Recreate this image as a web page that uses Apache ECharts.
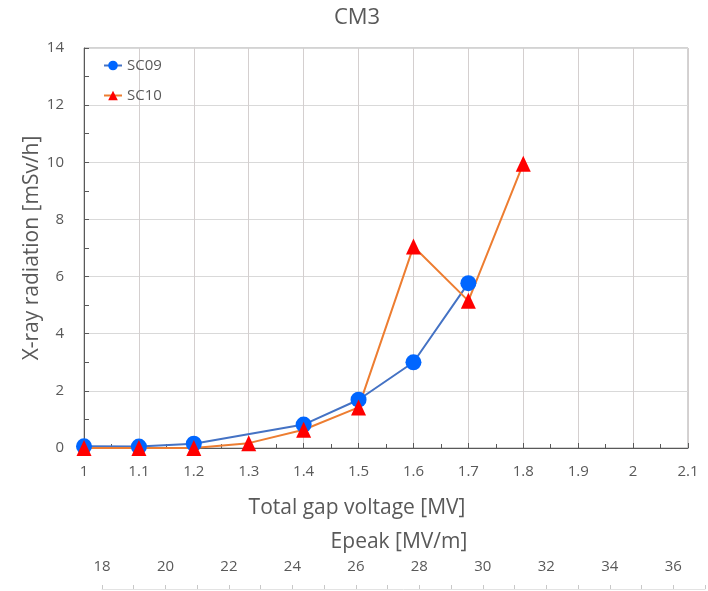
<!DOCTYPE html>
<html>
<head>
<meta charset="utf-8">
<script src="https://cdn.jsdelivr.net/npm/echarts@6/dist/echarts.min.js"></script>
<style>
  html, body { margin: 0; padding: 0; background: #fff; }
  #chart { width: 708px; height: 591px; }
</style>
</head>
<body>
<div id="chart"></div>
<script>
// data
var sc09Voltage = [1.0, 1.1, 1.2, 1.4, 1.5, 1.6, 1.7];
var sc09Dose = [0.06, 0.05, 0.15, 0.82, 1.69, 3.0, 5.77];
var sc10Voltage = [1.0, 1.1, 1.2, 1.3, 1.4, 1.5, 1.6, 1.7, 1.8];
var sc10Dose = [0, 0, 0, 0.17, 0.64, 1.42, 7.05, 5.15, 9.95];
var epeakMin = 18;
var epeakMax = 37;

var textColor = "#595959";
var font = "Open Sans";

function pairs(xs, ys) {
  return xs.map(function(x, i) {
    return [x, ys[i]];
  });
}

var myChart = echarts.init(document.getElementById("chart"));
myChart.setOption({
  animation: false,
  textStyle: { fontFamily: font },
  title: [
    {
      text: "CM3",
      left: 352,
      top: 2,
      textAlign: "center",
      textStyle: { color: textColor, fontSize: 22, fontWeight: "normal", fontFamily: font }
    },
    {
      text: "Total gap voltage [MV]",
      left: 352,
      top: 493,
      textAlign: "center",
      textStyle: { color: textColor, fontSize: 21, fontWeight: "normal", fontFamily: font }
    },
    {
      text: "Epeak [MV/m]",
      left: 394,
      top: 527,
      textAlign: "center",
      textStyle: { color: textColor, fontSize: 21, fontWeight: "normal", fontFamily: font }
    }
  ],
  legend: {
    orient: "vertical",
    left: 103,
    top: 58,
    padding: 0,
    itemGap: 15,
    itemWidth: 18,
    itemHeight: 12,
    textStyle: { color: textColor, fontSize: 15, lineHeight: 14, fontFamily: font },
    data: ["SC09", "SC10"]
  },
  grid: [
    {
      left: 84,
      top: 48,
      width: 604,
      height: 400,
      show: true,
      borderColor: "#a6a6a6",
      borderWidth: 1
    },
    {
      left: 102,
      top: 560,
      width: 606,
      height: 29
    }
  ],
  xAxis: [
    {
      type: "value",
      gridIndex: 0,
      min: 1,
      max: 2.1,
      interval: 0.1,
      axisLine: { show: true, lineStyle: { color: textColor, width: 1 } },
      axisTick: { show: true, inside: true, length: 5, lineStyle: { color: textColor } },
      minorTick: { show: true, splitNumber: 2, length: 4, lineStyle: { color: textColor } },
      splitLine: { show: true, lineStyle: { color: "#d4cfcf" } },
      axisLabel: {
        color: textColor,
        fontSize: 15,
        margin: 16,
        formatter: function(v) {
          return String(+v.toFixed(1));
        }
      }
    },
    {
      type: "value",
      gridIndex: 1,
      min: epeakMin,
      max: epeakMax,
      interval: 1,
      axisLine: { show: true, lineStyle: { color: "#e3e3e3" } },
      axisTick: { show: true, inside: true, length: 4, lineStyle: { color: "#c8c8c8" } },
      splitLine: { show: false },
      axisLabel: {
        inside: true,
        color: textColor,
        fontSize: 15,
        margin: 15,
        formatter: function(v) {
          return v % 2 === 0 && v < epeakMax ? String(v) : "";
        }
      }
    }
  ],
  yAxis: [
    {
      type: "value",
      gridIndex: 0,
      min: 0,
      max: 14,
      interval: 2,
      name: "X-ray radiation [mSv/h]",
      nameLocation: "middle",
      nameGap: 41,
      nameMoveOverlap: false,
      nameTextStyle: { color: textColor, fontSize: 21, fontFamily: font },
      axisLine: { show: true, lineStyle: { color: textColor, width: 1 } },
      axisTick: { show: true, inside: true, length: 5, lineStyle: { color: textColor } },
      minorTick: { show: true, splitNumber: 2, length: 5, lineStyle: { color: textColor } },
      splitLine: { show: true, lineStyle: { color: "#d9d9d9" } },
      axisLabel: { color: textColor, fontSize: 15, margin: 20 }
    },
    {
      type: "value",
      gridIndex: 1,
      show: false
    }
  ],
  series: [
    {
      name: "SC09",
      type: "line",
      xAxisIndex: 0,
      yAxisIndex: 0,
      data: pairs(sc09Voltage, sc09Dose),
      symbol: "circle",
      symbolSize: 16,
      lineStyle: { color: "#4472c4", width: 2 },
      itemStyle: { color: "#0066ff", borderWidth: 0 }
    },
    {
      name: "SC10",
      type: "line",
      xAxisIndex: 0,
      yAxisIndex: 0,
      data: pairs(sc10Voltage, sc10Dose),
      symbol: "triangle",
      symbolSize: [15, 16],
      lineStyle: { color: "#ed7d31", width: 2 },
      itemStyle: { color: "#ff0000", borderWidth: 0 }
    }
  ]
});
</script>
</body>
</html>
